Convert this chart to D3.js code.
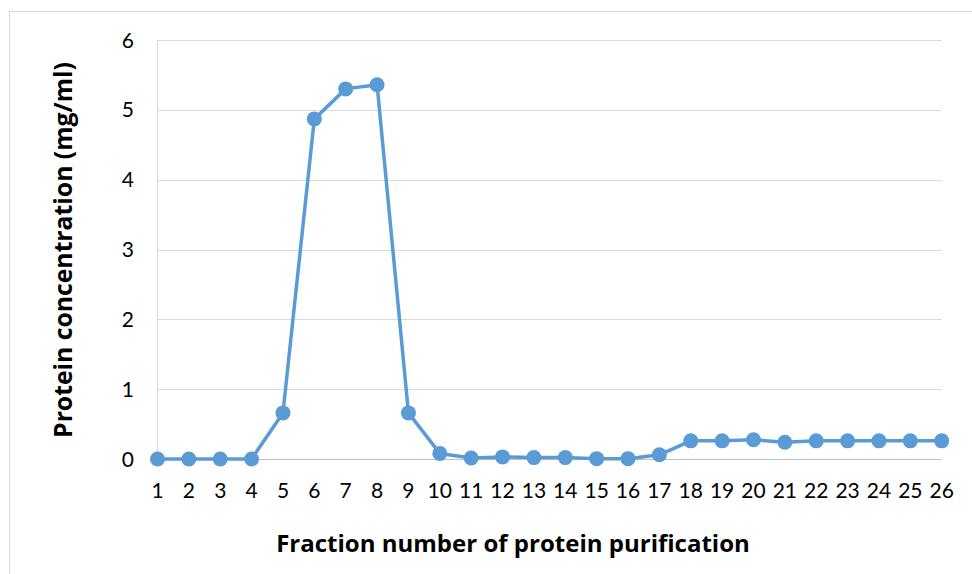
<!DOCTYPE html>
<html>
<head>
<meta charset="utf-8">
<script src="https://cdn.jsdelivr.net/npm/d3@7"></script>
<style>
  body { margin: 0; background: #fff; }
  text { font-family: Lato, "Open Sans", sans-serif; fill: #000; }
  .title { font-family: "Open Sans", sans-serif; font-weight: bold; font-size: 24px; }
  .grid line { stroke: #d9d9d9; stroke-width: 1; }
  .series { fill: none; stroke: #5b9bd5; stroke-width: 3.5; stroke-linejoin: round; }
  .dot { fill: #5b9bd5; }
</style>
</head>
<body>
<div id="chart"></div>
<script>
// fraction number on x, protein concentration (mg/ml) on y
var fractions = d3.range(1, 27);
var concentration = [0, 0, 0, 0, 0.66, 4.87, 5.30, 5.36, 0.66, 0.08,
                     0.015, 0.03, 0.02, 0.02, 0.005, 0.005, 0.06, 0.26, 0.26, 0.275,
                     0.24, 0.26, 0.26, 0.26, 0.26, 0.26];
var yTicks = [0, 1, 2, 3, 4, 5, 6];

var width = 972, height = 574;
var margin = {top: 40, right: 30, bottom: 115, left: 157.5};

var svg = d3.select("#chart").append("svg")
    .attr("width", width)
    .attr("height", height);

// chart area border
svg.append("rect")
    .attr("x", 9.5).attr("y", 11.5)
    .attr("width", width + 20).attr("height", height + 20)
    .attr("fill", "none")
    .attr("stroke", "#d9d9d9");

var x = d3.scalePoint()
    .domain(fractions)
    .range([margin.left, 941.7]);

var y = d3.scaleLinear()
    .domain([0, 6])
    .range([459, 40]);

// horizontal gridlines
svg.append("g").attr("class", "grid")
    .selectAll("line")
    .data(yTicks)
    .enter()
    .append("line")
    .attr("x1", x.range()[0])
    .attr("x2", x.range()[1])
    .attr("y1", function(d) { return Math.round(y(d)) + 0.5; })
    .attr("y2", function(d) { return Math.round(y(d)) + 0.5; })
    .style("stroke", function(d) { return d === 0 ? "#bfbfbf" : "#d9d9d9"; });

// vertical axis line
svg.append("line")
    .attr("x1", margin.left).attr("x2", margin.left)
    .attr("y1", y(6)).attr("y2", y(0))
    .attr("stroke", "#d9d9d9");

// y tick labels
svg.selectAll(".ylab")
    .data(yTicks)
    .enter()
    .append("text")
    .attr("class", "ylab")
    .attr("x", 134)
    .attr("y", function(d) { return y(d); })
    .attr("dy", "0.36em")
    .attr("text-anchor", "end")
    .style("font-size", "21px")
    .text(function(d) { return d; });

// x tick labels
svg.selectAll(".xlab")
    .data(fractions)
    .enter()
    .append("text")
    .attr("class", "xlab")
    .attr("x", function(d) { return x(d); })
    .attr("y", 498)
    .attr("text-anchor", "middle")
    .style("font-size", "21px")
    .text(function(d) { return d; });

var line = d3.line()
    .x(function(d, i) { return x(fractions[i]); })
    .y(function(d) { return y(d); });

svg.append("path")
    .datum(concentration)
    .attr("class", "series")
    .attr("d", line);

svg.selectAll(".dot")
    .data(concentration)
    .enter()
    .append("circle")
    .attr("class", "dot")
    .attr("r", 7.5)
    .attr("cx", function(d, i) { return x(fractions[i]); })
    .attr("cy", function(d) { return y(d); });

// resize a title so it spans the wanted length
function fit(sel, target) {
    var w = sel.node().getComputedTextLength();
    sel.style("font-size", (24 * target / w) + "px");
}

// axis titles
var xTitle = svg.append("text")
    .attr("class", "title")
    .attr("x", 513)
    .attr("y", 552)
    .attr("text-anchor", "middle")
    .text("Fraction number of protein purification");
fit(xTitle, 474);

var yTitle = svg.append("text")
    .attr("class", "title")
    .attr("transform", "translate(72,250) rotate(-90)")
    .attr("text-anchor", "middle")
    .text("Protein concentration (mg/ml)");
fit(yTitle, 376);
</script>
</body>
</html>
